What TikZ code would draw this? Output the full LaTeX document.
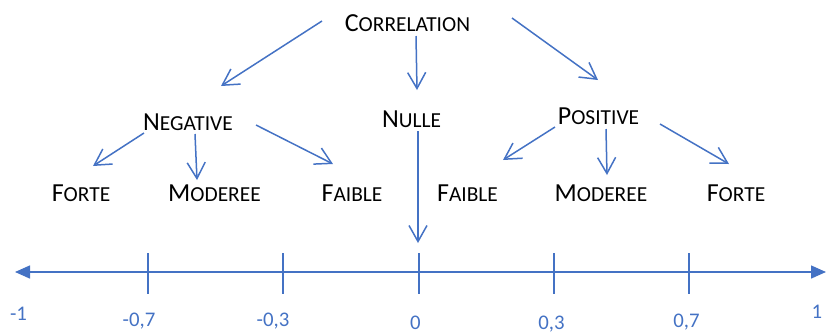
\documentclass[tikz,border=0pt]{standalone}
\usepackage{fontspec}
\setmainfont{Carlito}
\usetikzlibrary{arrows.meta,calc}
\definecolor{officeblue}{HTML}{4472C4}
\newcommand\fsc[2]{{\fontsize{13}{15}\selectfont#1}{\fontsize{10.7}{13}\selectfont#2}}
\tikzset{
  mot/.style={inner sep=0pt,anchor=base},
  num/.style={inner sep=0pt,anchor=base,text=officeblue,font=\fontsize{10.4}{12}\selectfont},
  fleche/.style={draw=officeblue,line width=0.75pt,-{Straight Barb[length=8pt,width=9pt]}},
  axe/.style={draw=officeblue,line width=0.75pt}
}
\begin{document}
\begin{tikzpicture}[x=0.5pt,y=-0.5pt]
    \useasboundingbox (0,0) rectangle (827,334);
    \node[mot] (corr) at (407.5,31) {\fsc{C}{ORRELATION}};
    \node[mot] (neg) at (188,130) {\fsc{N}{EGATIVE}};
    \node[mot] (nul) at (411.5,127) {\fsc{N}{ULLE}};
    \node[mot] (pos) at (598.5,124) {\fsc{P}{OSITIVE}};
    \node[mot] (nforte) at (81,201) {\fsc{F}{ORTE}};
    \node[mot] (nmod) at (214.5,201) {\fsc{M}{ODEREE}};
    \node[mot] (nfaib) at (352,201) {\fsc{F}{AIBLE}};
    \node[mot] (pfaib) at (467.5,201) {\fsc{F}{AIBLE}};
    \node[mot] (pmod) at (601,201) {\fsc{M}{ODEREE}};
    \node[mot] (pforte) at (736,201) {\fsc{F}{ORTE}};
    % axe des valeurs
    \coordinate (gauche) at (15,272);
    \coordinate (droite) at (826,272);
    \draw[axe,{Triangle[length=7.5pt,width=6.5pt]}-{Triangle[length=7.5pt,width=6.5pt]}] (gauche) -- (droite);
    \foreach \x/\n in {148/tm7,283/tm3,419/tz,554/tp3,689/tp7} {
      \draw[axe] (\x,253) coordinate (\n) -- (\x,294);
    };
    \foreach \x/\y/\t [count=\i] in {18.5/320/-1,139/326/{-0,7},273/326/{-0,3},415.5/329/0,551.5/329/{0,3},686.5/327/{0,7},817/318/1} {
      \node[num] (lab\i) at (\x,\y) {\t};
    };
    % fleches
    \draw[fleche] ($(corr.base)+(-85.5,-10)$) -- ($(neg.base)+(33,-44)$);
    \draw[fleche] ($(corr.base)+(8.5,5)$) -- ($(nul.base)+(5.5,-37)$);
    \draw[fleche] ($(corr.base)+(104.5,-13)$) -- ($(pos.base)+(-0.5,-44)$);
    \draw[fleche] ($(neg.base)+(-44,3)$) -- ($(nforte.base)+(12,-35)$);
    \draw[fleche] ($(neg.base)+(7,4)$) -- ($(nmod.base)+(-17.5,-21)$);
    \draw[fleche] ($(neg.base)+(68,-5)$) -- ($(nfaib.base)+(-19,-37)$);
    \draw[fleche] ($(nul.base)+(6.5,4)$) -- ($(tz)+(-1,-10)$);
    \draw[fleche] ($(pos.base)+(-43.5,3)$) -- ($(pfaib.base)+(35.5,-41)$);
    \draw[fleche] ($(pos.base)+(7.5,5)$) -- ($(pmod.base)+(6,-26)$);
    \draw[fleche] ($(pos.base)+(61.5,0)$) -- ($(pforte.base)+(-7,-37)$);
\end{tikzpicture}
\end{document}
